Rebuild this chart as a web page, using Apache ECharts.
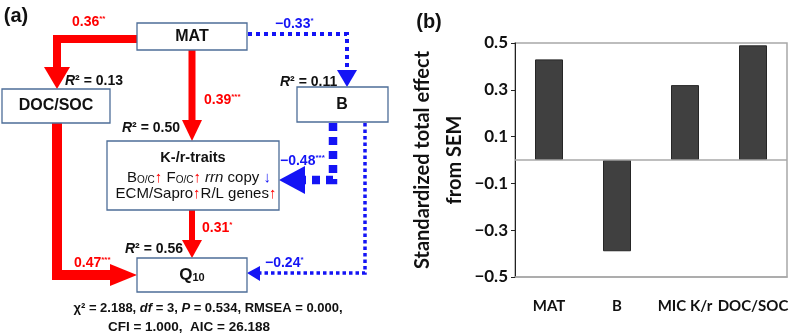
<!DOCTYPE html>
<html><head><meta charset="utf-8">
<script src="https://cdn.jsdelivr.net/npm/echarts@6/dist/echarts.min.js"></script>
<style>html,body{margin:0;padding:0;background:#fff}#c{width:800px;height:336px}</style>
</head><body><div id="c"></div>
<script>
// ---- data: panel (b) ----
const categories = ['MAT', 'B', 'MIC K/r', 'DOC/SOC'];
const totalEffects = [0.43, -0.39, 0.32, 0.49];
const yMin = -0.5, yMax = 0.5, yInterval = 0.2;

// ---- data: panel (a) SEM path coefficients ----
const pathNames = ['MAT→DOC/SOC', 'MAT→K/r', 'MAT→B', 'B→K/r', 'K/r→Q10', 'DOC/SOC→Q10', 'B→Q10'];
const pathCoefs = ['0.36', '0.39', '−0.33', '−0.48', '0.31', '0.47', '−0.24'];
const pathSig = ['**', '***', '*', '***', '*', '***', '*'];
const r2Nodes = ['DOC/SOC', 'K/r', 'B', 'Q10'];
const r2Values = ['0.13', '0.50', '0.11', '0.56'];
const fitLine1 = ['χ² = 2.188, ', 'df', ' = 3, ', 'P', ' = 0.534, RMSEA = 0.000,'];
const fitLine2 = 'CFI = 1.000,  AIC = 26.188';

const AR = '"Liberation Sans", Arial, sans-serif';
const LT = 'Lato, "Open Sans", sans-serif';
const RED = '#ff0000', BLUE = '#1414f5', BOX = '#4d6d98';

function box(x, y, w, h) {
  return {type: 'rect', shape: {x: x, y: y, width: w, height: h},
    style: {fill: '#fff', stroke: BOX, lineWidth: 1.3}, z: 5};
}
function line(pts, color, w, dash) {
  return {type: 'polyline', shape: {points: pts},
    style: {stroke: color, lineWidth: w, fill: null, lineDash: dash || null, lineCap: 'butt', lineJoin: 'miter'}, z: 3};
}
function head(pts, color) {
  return {type: 'polygon', shape: {points: pts}, style: {fill: color, stroke: null}, z: 4};
}
function coef(i, x, y, color) {
  return {type: 'text', x: x, y: y, z: 6, style: {
    text: '{v|' + pathCoefs[i] + '}{s|' + pathSig[i] + '}',
    align: 'left', verticalAlign: 'middle',
    rich: {
      v: {fontSize: 14, fontWeight: 'bold', fontFamily: AR, fill: color},
      s: {fontSize: 8, fontWeight: 'bold', fontFamily: AR, fill: color, verticalAlign: 'top'}
    }}};
}
function r2(i, x, y) {
  return {type: 'text', x: x, y: y, z: 6, style: {
    text: '{i|R}{n|² = ' + r2Values[i] + '}',
    align: 'left', verticalAlign: 'middle',
    rich: {
      i: {fontSize: 14, fontWeight: 'bold', fontStyle: 'italic', fontFamily: AR, fill: '#111'},
      n: {fontSize: 14, fontWeight: 'bold', fontFamily: AR, fill: '#111'}
    }}};
}
function label(t, x, y, size, align) {
  return {type: 'text', x: x, y: y, z: 6, style: {text: t, align: align || 'center', verticalAlign: 'middle',
    fontSize: size, fontWeight: 'bold', fontFamily: AR, fill: '#111'}};
}

const subRich = {
  sub: {fontSize: 10, fontFamily: AR, fill: '#111', verticalAlign: 'bottom'},
  r: {fontSize: 15, fontFamily: AR, fill: RED},
  b: {fontSize: 15, fontFamily: AR, fill: BLUE},
  it: {fontSize: 15, fontFamily: AR, fontStyle: 'italic', fill: '#111'},
  t: {fontSize: 15, fontFamily: AR, fill: '#111'}
};

const diagram = [
  // arrows
  line([[137, 39], [57, 39], [57, 68]], RED, 8),
  head([[44, 67], [70, 67], [57, 89]], RED),
  line([[192, 50], [192, 122]], RED, 7),
  head([[182, 120], [202, 120], [192, 141]], RED),
  line([[248, 34], [347, 34], [347, 71]], BLUE, 4, [4, 4]),
  head([[337, 70], [357, 70], [347, 87]], BLUE),
  line([[333, 123], [333, 180], [305, 180]], BLUE, 8.5, [8, 6]),
  head([[305, 166], [305, 194], [279, 180]], BLUE),
  line([[365, 123], [365, 273], [259, 273]], BLUE, 3.5, [3.5, 3]),
  head([[260, 266], [260, 281], [247, 273]], BLUE),
  line([[192, 210], [192, 242]], RED, 6),
  head([[182, 240], [202, 240], [192, 258]], RED),
  line([[57, 123], [57, 275], [112, 275]], RED, 10),
  head([[110, 264], [110, 286], [137, 275]], RED),
  // boxes
  box(137, 23, 110, 27),
  box(2, 89, 108, 34),
  box(297, 87, 91, 35),
  box(107, 141, 172, 69),
  box(137, 258, 110, 34),
  // box texts
  label('MAT', 192, 37, 16),
  label('DOC/SOC', 56, 106, 16),
  label('B', 342, 105, 16),
  label('K-/r-traits', 193, 158, 14.5),
  {type: 'text', x: 199, y: 178, z: 6, style: {
    text: '{t|B}{sub|O/C}{r|↑}{t| F}{sub|O/C}{r|↑}{it| rrn}{t| copy}{b| ↓}',
    align: 'center', verticalAlign: 'middle', fontSize: 15, fontFamily: AR, fill: '#111', rich: subRich}},
  {type: 'text', x: 196, y: 194, z: 6, style: {
    text: '{t|ECM/Sapro}{r|↑}{t|R/L genes}{r|↑}',
    align: 'center', verticalAlign: 'middle', fontSize: 15, fontFamily: AR, fill: '#111', rich: subRich}},
  {type: 'text', x: 192, y: 275, z: 6, style: {
    text: '{q|Q}{n|10}', align: 'center', verticalAlign: 'middle',
    rich: {q: {fontSize: 17, fontWeight: 'bold', fontFamily: AR, fill: '#111'},
           n: {fontSize: 11, fontWeight: 'bold', fontFamily: AR, fill: '#111', verticalAlign: 'bottom'}}}},
  // coefficients
  coef(0, 72, 22, RED),
  coef(1, 204, 100, RED),
  coef(2, 275, 24, BLUE),
  coef(3, 280, 161, BLUE),
  coef(4, 202, 228, RED),
  coef(5, 74, 263, RED),
  coef(6, 265, 263, BLUE),
  // R squared
  r2(0, 65, 81),
  r2(1, 122, 128),
  r2(2, 280, 82),
  r2(3, 125, 249),
  // fit statistics
  {type: 'text', x: 208, y: 308, z: 6, style: {
    text: '{b|' + fitLine1[0] + '}{i|' + fitLine1[1] + '}{b|' + fitLine1[2] + '}{i|' + fitLine1[3] + '}{b|' + fitLine1[4] + '}',
    align: 'center', verticalAlign: 'middle',
    rich: {b: {fontSize: 13, fontWeight: 'bold', fontFamily: AR, fill: '#111'},
           i: {fontSize: 13, fontWeight: 'bold', fontStyle: 'italic', fontFamily: AR, fill: '#111'}}}},
  label(fitLine2, 189, 327, 13.5),
  // panel letters
  label('(a)', 16, 16, 20),
  label('(b)', 429, 22, 20)
];

const chart = echarts.init(document.getElementById('c'), null, {renderer: 'canvas'});
chart.setOption({
  animation: false,
  backgroundColor: '#fff',
  grid: {left: 515, right: 13, top: 43, bottom: 59, show: true, borderColor: '#a8a8a8', borderWidth: 1.5, containLabel: false},
  xAxis: {
    type: 'category', data: categories,
    axisLine: {onZero: false, lineStyle: {color: '#a8a8a8', width: 1.5}},
    axisTick: {show: false},
    axisLabel: {fontSize: 15, fontWeight: 'bold', fontFamily: LT, color: '#111', margin: 22, interval: 0}
  },
  yAxis: {
    type: 'value', min: yMin, max: yMax, interval: yInterval,
    name: 'Standardized total effect\nfrom SEM',
    nameLocation: 'middle', nameRotate: 90, nameGap: 43,
    nameTextStyle: {fontSize: 20, fontWeight: 'bold', fontFamily: LT, color: '#111', lineHeight: 32},
    axisLine: {show: true, lineStyle: {color: '#222', width: 1}},
    axisTick: {show: true, length: 4, lineStyle: {color: '#222'}},
    splitLine: {show: false},
    axisLabel: {fontSize: 17, fontWeight: 'bold', fontFamily: LT, color: '#111', margin: 7,
      formatter: function (v) { return (v < 0 ? '−' : '') + Math.abs(v).toFixed(1); }}
  },
  series: [{
    type: 'bar', data: totalEffects, barWidth: 28,
    itemStyle: {color: '#404040', borderColor: '#262626', borderWidth: 1},
    markLine: {silent: true, symbol: 'none', label: {show: false},
      lineStyle: {color: '#a8a8a8', width: 1.5, type: 'solid'}, data: [{yAxis: 0}]}
  }],
  graphic: {elements: diagram}
});
</script></body></html>
